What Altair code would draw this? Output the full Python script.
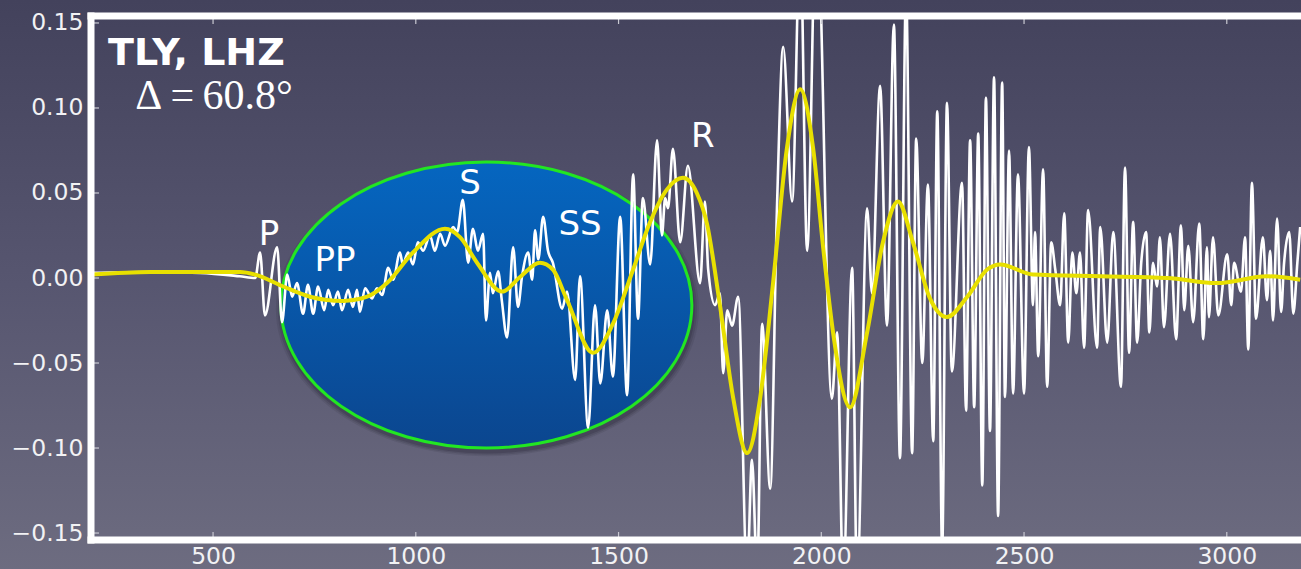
import altair as alt
import pandas as pd

# ---------------- data ----------------
# broadband (white) trace: time (s) and amplitude
white_t = [200, 345, 468, 566, 604,
           616, 628, 658, 670, 683, 695, 707, 722, 734, 747, 759, 774, 784, 796, 808, 818, 833, 845,
           855, 862, 875, 892, 904, 917, 932, 944, 961, 968, 981, 993, 1005, 1018, 1035, 1047, 1060,
           1072, 1092, 1102, 1116, 1129, 1141, 1153, 1166, 1173, 1183, 1190, 1203, 1212, 1225, 1240,
           1252, 1262, 1277, 1287, 1294, 1302, 1314, 1326, 1338, 1361, 1373, 1393, 1405, 1425, 1442,
           1455, 1472, 1486, 1504, 1521, 1536, 1548, 1560, 1578, 1595, 1607, 1615, 1622, 1634, 1652,
           1671, 1701, 1713, 1721, 1738, 1750, 1758, 1768, 1780, 1795, 1817, 1829, 1842, 1854, 1874,
           1891, 1906, 1928, 1948, 1965, 1988, 2026, 2039, 2054, 2076, 2088, 2113, 2125, 2145, 2162,
           2179, 2194, 2209, 2224, 2234, 2249, 2263, 2276, 2286, 2298, 2310, 2322, 2347, 2357, 2367,
           2377, 2387, 2397, 2406, 2416, 2426, 2436, 2446, 2453, 2463, 2473, 2485, 2500, 2512, 2522,
           2527, 2535, 2547, 2557, 2567, 2577, 2589, 2599, 2609, 2619, 2629, 2638, 2648, 2658, 2680,
           2688, 2705, 2720, 2739, 2749, 2759, 2769, 2779, 2789, 2801, 2809, 2818, 2828, 2835, 2845,
           2860, 2875, 2887, 2895, 2905, 2917, 2932, 2942, 2951, 2956, 2966, 2979, 3001, 3011, 3018,
           3035, 3045, 3053, 3062, 3072, 3089, 3099, 3107, 3114, 3124, 3134, 3141, 3154, 3164, 3174,
           3181]
white_v = [0.003, 0.0035, 0.003, 0.001, 0.000,
           0.015, -0.022, 0.018, -0.026, 0.002, -0.011, -0.003, -0.021, -0.004, -0.021, -0.005, -0.019,
           -0.007, -0.016, -0.008, -0.019, -0.007, -0.017,
           -0.007, -0.020, -0.006, -0.012, -0.006, -0.010, 0.006, -0.001, 0.015, 0.008, 0.015, 0.008,
           0.021, 0.016, 0.025, 0.016, 0.026,
           0.019, 0.030, 0.027, 0.046, 0.009, 0.029, 0.016, 0.026, -0.025, 0.003, -0.009, 0.004, -0.013,
           -0.035, 0.018,
           -0.017, 0.001, 0.015, -0.001, 0.028, 0.011, 0.036, 0.016, 0.009, -0.018, -0.008, -0.060, 0.001,
           -0.088, -0.016,
           -0.062, -0.019, -0.058, 0.036, -0.069, 0.061, -0.024, 0.047, 0.008, 0.081, 0.025, 0.047, 0.041,
           0.076, 0.021,
           0.066, -0.003, 0.045, 0.005, -0.016, -0.009, -0.056, -0.019, -0.028, -0.011, -0.175, -0.107,
           -0.175, -0.027, -0.124,
           0.044, 0.136, 0.045, 0.200, 0.016, 0.220, -0.071, -0.032, -0.180, 0.006, -0.180, 0.041, -0.009,
           0.113, -0.028,
           0.149, -0.106, 0.170, -0.103, 0.082, -0.050, 0.055, -0.096, 0.098, -0.160, 0.103, -0.055, 0.056,
           -0.078, 0.081,
           -0.076, 0.085, -0.122, 0.106, -0.090, 0.118, -0.140, 0.115, -0.070, 0.075, -0.068, 0.061, -0.068,
           0.077, -0.016,
           0.027, -0.046, 0.064, -0.064, 0.021, 0.005, -0.016, 0.038, -0.038, 0.015, -0.009, 0.015, -0.041,
           0.040, -0.041,
           0.030, -0.038, 0.027, -0.064, 0.065, -0.044, 0.033, -0.038, 0.009, 0.027, -0.032, 0.009, -0.005,
           0.024, -0.029,
           0.026, -0.036, 0.031, -0.019, 0.019, -0.026, 0.032, -0.036, 0.018, -0.023, 0.024, -0.022, 0.014,
           -0.016, 0.009,
           -0.008, 0.024, -0.042, 0.056, -0.024, 0.024, -0.013, 0.016, -0.025, 0.035, -0.020, 0.008, 0.027,
           -0.021, 0.009,
           0.030]

# long-period (yellow) trace
yellow_t = [200, 345, 567, 604, 673, 739, 821, 880, 929, 993, 1072, 1109, 1151, 1213, 1257, 1306,
            1338, 1373, 1437, 1486, 1536, 1578, 1619, 1659, 1693, 1718, 1750, 1783, 1817, 1849, 1881,
            1915, 1948, 1980, 2005, 2029, 2071, 2113, 2152, 2189, 2226, 2268, 2310, 2360, 2409, 2441,
            2522, 2688, 2853, 2976, 3099, 3181]
yellow_v = [0.002, 0.0035, 0.0035, 0.002, -0.005, -0.011, -0.0135, -0.011, -0.003, 0.015, 0.029,
            0.024, 0.009, -0.008, 0.0006, 0.009, 0.005, -0.013, -0.044, -0.027, 0.005, 0.033, 0.052,
            0.059, 0.050, 0.032, -0.016, -0.071, -0.103, -0.071, -0.003, 0.076, 0.111, 0.076, 0.017,
            -0.032, -0.076, -0.032, 0.021, 0.045, 0.021, -0.012, -0.023, -0.011, 0.005, 0.008, 0.002,
            0.001, 0.000, -0.003, 0.001, -0.001]

# phase labels
phase_names = ["P", "PP", "S", "SS", "R"]
phase_t = [638, 801, 1134, 1405, 1708]
phase_v = [0.025, 0.010, 0.055, 0.031, 0.083]

# annotation texts
station_text = ["TLY, LHZ"]
station_t = [241]
station_v = [0.1253]
delta_text = ["Δ =\u200960.8°"]
delta_t = [308]
delta_v = [0.0994]

# highlighted window (ellipse centre)
ellipse_t = [1174]
ellipse_v = [-0.0159]

x_ticks = [500, 1000, 1500, 2000, 2500, 3000]
y_ticks = [-0.15, -0.10, -0.05, 0.0, 0.05, 0.10, 0.15]

# ---------------- layout ----------------
W, H = 1210, 524
x_scale = alt.Scale(domain=[199, 3183], nice=False, zero=False)
y_scale = alt.Scale(domain=[-0.1541, 0.1541], nice=False, zero=False)

x_axis = alt.Axis(values=x_ticks, format="d", title=None, grid=False, domain=False, ticks=False,
                  labelColor="#f2f2f4", labelFont="DejaVu Sans", labelFontSize=23.5, labelPadding=4,
                  labelFlush=False, labelOverlap=False, zindex=2)
y_axis = alt.Axis(values=y_ticks, format=".2f", title=None, grid=False, domain=False, ticks=False,
                  labelColor="#f2f2f4", labelFont="DejaVu Sans", labelFontSize=23.5, labelPadding=8,
                  labelFlush=False, labelOverlap=False, zindex=2)

white_df = pd.DataFrame({"t": white_t, "v": white_v})
yellow_df = pd.DataFrame({"t": yellow_t, "v": yellow_v})
phase_df = pd.DataFrame({"name": phase_names, "t": phase_t, "v": phase_v})
station_df = pd.DataFrame({"name": station_text, "t": station_t, "v": station_v})
delta_df = pd.DataFrame({"name": delta_text, "t": delta_t, "v": delta_v})
ell_df = pd.DataFrame({"t": ellipse_t, "v": ellipse_v})
one = pd.DataFrame({"a": [0]})
xt_df = pd.DataFrame({"t": x_ticks})
yt_df = pd.DataFrame({"v": y_ticks})


def X(f="t"):
    return alt.X(f"{f}:Q", scale=x_scale, axis=x_axis)


def Y(f="v"):
    return alt.Y(f"{f}:Q", scale=y_scale, axis=y_axis)


bg = alt.Chart(one).mark_rect(
    fill=alt.Gradient(gradient="linear", x1=0, y1=0, x2=0, y2=1,
                      stops=[alt.GradientStop(color="#43425c", offset=0),
                             alt.GradientStop(color="#575670", offset=0.5),
                             alt.GradientStop(color="#6d6c80", offset=1)])
).encode(x=alt.value(-91), x2=alt.value(W), y=alt.value(-16), y2=alt.value(H + 29))

k = 0.5523
r = 143.0 / 205.5
ell_path = (f"M 1 0 C 1 {k*r:.4f} {k:.4f} {r:.4f} 0 {r:.4f} "
            f"C {-k:.4f} {r:.4f} -1 {k*r:.4f} -1 0 "
            f"C -1 {-k*r:.4f} {-k:.4f} {-r:.4f} 0 {-r:.4f} "
            f"C {k:.4f} {-r:.4f} 1 {-k*r:.4f} 1 0 Z")

# soft drop shadow below the highlight ellipse
shadows = [
    alt.Chart(ell_df).mark_point(
        shape=ell_path, size=(2 * (205.5 + grow)) ** 2, filled=True,
        fill="#1c1b2c", opacity=op, xOffset=1, yOffset=4
    ).encode(x=X(), y=Y())
    for grow, op in [(6, 0.10), (4, 0.14), (2, 0.20)]
]

ellipse = alt.Chart(ell_df).mark_point(
    shape=ell_path, size=(2 * 205.5) ** 2, filled=True, opacity=1,
    fill=alt.Gradient(gradient="linear", x1=0, y1=0, x2=0, y2=1,
                      stops=[alt.GradientStop(color="#0566c0", offset=0),
                             alt.GradientStop(color="#0b468f", offset=1)]),
    stroke="#22e622", strokeWidth=3
).encode(x=X(), y=Y())

white = alt.Chart(white_df).mark_line(
    color="#ffffff", strokeWidth=2.6, interpolate="monotone", clip=True
).encode(x=X(), y=Y(), order="t:Q")

yellow = alt.Chart(yellow_df).mark_line(
    color="#e8e000", strokeWidth=4, interpolate="monotone", clip=True
).encode(x=X(), y=Y(), order="t:Q")

phases = alt.Chart(phase_df).mark_text(
    font="DejaVu Sans", fontSize=34, color="#ffffff", align="center", baseline="middle"
).encode(x=X(), y=Y(), text="name:N")

station = alt.Chart(station_df).mark_text(
    font="DejaVu Sans", fontSize=38, fontWeight="bold", color="#ffffff", align="left",
    baseline="alphabetic"
).encode(x=X(), y=Y(), text="name:N")

delta = alt.Chart(delta_df).mark_text(
    font="Liberation Serif", fontSize=42, color="#ffffff", align="left", baseline="alphabetic"
).encode(x=X(), y=Y(), text="name:N")

border_top = alt.Chart(one).mark_rule(color="#ffffff", strokeWidth=7).encode(
    x=alt.value(-3.5), x2=alt.value(W), y=alt.value(0))
border_left = alt.Chart(one).mark_rule(color="#ffffff", strokeWidth=7).encode(
    x=alt.value(0), y=alt.value(-3.5), y2=alt.value(H + 3.5))
border_bottom = alt.Chart(one).mark_rule(color="#ffffff", strokeWidth=7).encode(
    x=alt.value(-3.5), x2=alt.value(W), y=alt.value(H))

tick_style = dict(color="#c9c9d2", strokeWidth=1.2)
ticks_bottom = alt.Chart(xt_df).mark_rule(**tick_style).encode(
    x=X(), y=alt.value(H), y2=alt.value(H - 8))
ticks_top = alt.Chart(xt_df).mark_rule(**tick_style).encode(
    x=X(), y=alt.value(0), y2=alt.value(8))
ticks_left = alt.Chart(yt_df).mark_rule(**tick_style).encode(
    y=Y(), x=alt.value(0), x2=alt.value(8))

chart = alt.layer(
    bg, *shadows, ellipse, white, yellow, phases, station, delta,
    ticks_bottom, ticks_top, ticks_left,
    border_top, border_left, border_bottom
).properties(
    width=W, height=H,
    padding={"left": 91, "top": 16, "right": 0, "bottom": 29},
    autosize=alt.AutoSizeParams(type="none"),
    background="#575670"
).configure_view(stroke=None, strokeWidth=0)

chart.save("out.html", embed_options={"renderer": "svg", "actions": False})
